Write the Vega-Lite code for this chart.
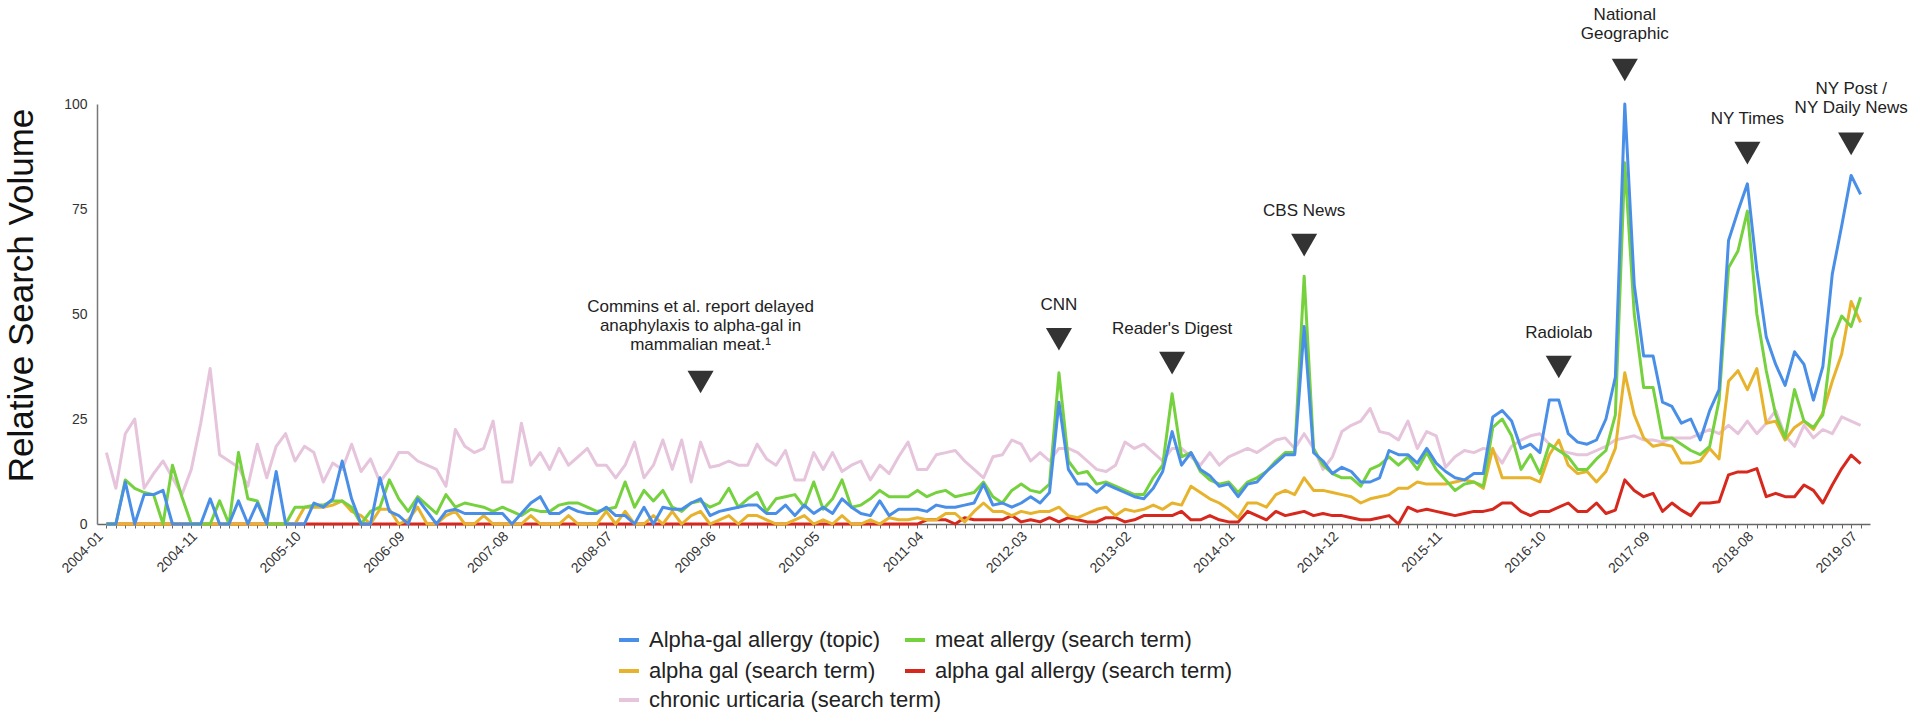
{
"$schema":"https://vega.github.io/schema/vega-lite/v6.json",
"width":1773,"height":420,
"autosize":{"type":"none"},
"padding":{"left":97,"top":104,"right":50,"bottom":197},
"config":{"view":{"stroke":null},"font":"Liberation Sans"},
"datasets":{
"trends":[
{"m":"2004-01","t":0,"g":0,"o":0,"r":0,"c":17},
{"m":"2004-02","t":0,"g":0,"o":0,"r":0,"c":8.5},
{"m":"2004-03","t":10,"g":10.5,"o":0,"r":0,"c":21.5},
{"m":"2004-04","t":0,"g":8.5,"o":0,"r":0,"c":25},
{"m":"2004-05","t":7,"g":7.5,"o":0,"r":0,"c":8.5},
{"m":"2004-06","t":7,"g":7,"o":0,"r":0,"c":12},
{"m":"2004-07","t":8,"g":0,"o":0,"r":0,"c":15},
{"m":"2004-08","t":0,"g":14,"o":0,"r":0,"c":11},
{"m":"2004-09","t":0,"g":6.5,"o":0,"r":0,"c":7},
{"m":"2004-10","t":0,"g":0,"o":0,"r":0,"c":13},
{"m":"2004-11","t":0,"g":0,"o":0,"r":0,"c":24},
{"m":"2004-12","t":6,"g":0,"o":0,"r":0,"c":37},
{"m":"2005-01","t":0,"g":5.5,"o":0,"r":0,"c":16.5},
{"m":"2005-02","t":0,"g":0,"o":0,"r":0,"c":15},
{"m":"2005-03","t":5.5,"g":17,"o":0,"r":0,"c":13.5},
{"m":"2005-04","t":0,"g":6,"o":0,"r":0,"c":9},
{"m":"2005-05","t":5,"g":5.5,"o":0,"r":0,"c":19},
{"m":"2005-06","t":0,"g":0,"o":0,"r":0,"c":11},
{"m":"2005-07","t":12.5,"g":0,"o":0,"r":0,"c":18.5},
{"m":"2005-08","t":0,"g":0,"o":0,"r":0,"c":21.5},
{"m":"2005-09","t":0,"g":4,"o":0,"r":0,"c":15},
{"m":"2005-10","t":0,"g":4,"o":4,"r":0,"c":18.5},
{"m":"2005-11","t":5,"g":4.5,"o":4,"r":0,"c":17},
{"m":"2005-12","t":4,"g":4.5,"o":4,"r":0,"c":10},
{"m":"2006-01","t":6,"g":5.5,"o":4.5,"r":0,"c":14.5},
{"m":"2006-02","t":15,"g":5.5,"o":5.5,"r":0,"c":13},
{"m":"2006-03","t":6,"g":4,"o":3,"r":0,"c":19},
{"m":"2006-04","t":0,"g":0,"o":2,"r":0,"c":12.5},
{"m":"2006-05","t":0,"g":3,"o":0,"r":0,"c":15.5},
{"m":"2006-06","t":11,"g":4,"o":3.5,"r":0,"c":10},
{"m":"2006-07","t":3,"g":10.5,"o":3.5,"r":0,"c":13},
{"m":"2006-08","t":2,"g":6,"o":0,"r":0,"c":17},
{"m":"2006-09","t":0,"g":3,"o":1,"r":0,"c":17},
{"m":"2006-10","t":6,"g":6.5,"o":4,"r":0,"c":15},
{"m":"2006-11","t":3,"g":4.5,"o":0,"r":0,"c":14},
{"m":"2006-12","t":0,"g":2.5,"o":0,"r":0,"c":13},
{"m":"2007-01","t":3,"g":7,"o":2,"r":0,"c":9},
{"m":"2007-02","t":3.5,"g":4,"o":3,"r":0,"c":22.5},
{"m":"2007-03","t":2.5,"g":5,"o":0,"r":0,"c":18.5},
{"m":"2007-04","t":2.5,"g":4.5,"o":0,"r":0,"c":17},
{"m":"2007-05","t":2.5,"g":4,"o":2,"r":0,"c":18},
{"m":"2007-06","t":2.5,"g":3,"o":0,"r":0,"c":24.5},
{"m":"2007-07","t":2.5,"g":4,"o":0,"r":0,"c":10},
{"m":"2007-08","t":0,"g":3,"o":0,"r":0,"c":10},
{"m":"2007-09","t":2.5,"g":2,"o":0,"r":0,"c":24},
{"m":"2007-10","t":5,"g":3.5,"o":2,"r":0,"c":14},
{"m":"2007-11","t":6.5,"g":3,"o":0,"r":0,"c":17},
{"m":"2007-12","t":2.5,"g":3,"o":0,"r":0,"c":13},
{"m":"2008-01","t":2.5,"g":4.5,"o":0,"r":0,"c":18},
{"m":"2008-02","t":4,"g":5,"o":2,"r":0,"c":14},
{"m":"2008-03","t":3,"g":5,"o":0,"r":0,"c":16},
{"m":"2008-04","t":2.5,"g":4,"o":0,"r":0,"c":18},
{"m":"2008-05","t":2.5,"g":3,"o":0,"r":0,"c":14},
{"m":"2008-06","t":4,"g":3.5,"o":3,"r":0,"c":14},
{"m":"2008-07","t":2,"g":4,"o":0,"r":0,"c":11},
{"m":"2008-08","t":2,"g":10,"o":3,"r":0,"c":14},
{"m":"2008-09","t":0,"g":4,"o":0,"r":0,"c":19.5},
{"m":"2008-10","t":4,"g":8,"o":0,"r":0,"c":11},
{"m":"2008-11","t":0,"g":5.5,"o":2,"r":0,"c":14},
{"m":"2008-12","t":4,"g":8,"o":0,"r":0,"c":20},
{"m":"2009-01","t":3.5,"g":4,"o":3,"r":0,"c":13},
{"m":"2009-02","t":3.5,"g":3,"o":0,"r":0,"c":20},
{"m":"2009-03","t":5,"g":5,"o":2,"r":0,"c":10},
{"m":"2009-04","t":6,"g":5.5,"o":3,"r":0,"c":19.5},
{"m":"2009-05","t":2,"g":4,"o":0,"r":0,"c":13.5},
{"m":"2009-06","t":3,"g":5,"o":1,"r":0,"c":14},
{"m":"2009-07","t":3.5,"g":8.5,"o":2,"r":0,"c":15},
{"m":"2009-08","t":4,"g":4,"o":0,"r":0,"c":14},
{"m":"2009-09","t":4.5,"g":6,"o":2,"r":0,"c":14},
{"m":"2009-10","t":4.5,"g":7.5,"o":2,"r":0,"c":19},
{"m":"2009-11","t":2.5,"g":3,"o":1,"r":0,"c":15.5},
{"m":"2009-12","t":2.5,"g":6,"o":0,"r":0,"c":14},
{"m":"2010-01","t":4.5,"g":6.5,"o":0,"r":0,"c":17.5},
{"m":"2010-02","t":2,"g":7,"o":1,"r":0,"c":10.5},
{"m":"2010-03","t":4.5,"g":4,"o":2,"r":0,"c":10.5},
{"m":"2010-04","t":2.5,"g":10,"o":0,"r":0,"c":17},
{"m":"2010-05","t":4,"g":3.5,"o":1,"r":0,"c":13},
{"m":"2010-06","t":2.5,"g":6,"o":0,"r":0,"c":17},
{"m":"2010-07","t":6,"g":10.5,"o":2,"r":0,"c":12.5},
{"m":"2010-08","t":4,"g":4,"o":0,"r":0,"c":14},
{"m":"2010-09","t":2.5,"g":4.5,"o":0,"r":0,"c":15},
{"m":"2010-10","t":2,"g":6,"o":1,"r":0,"c":10.5},
{"m":"2010-11","t":5.5,"g":8,"o":0,"r":0,"c":14},
{"m":"2010-12","t":2,"g":6.5,"o":1.5,"r":0,"c":12},
{"m":"2011-01","t":3.5,"g":6.5,"o":1,"r":0,"c":16},
{"m":"2011-02","t":3.5,"g":6.5,"o":1,"r":0,"c":19.5},
{"m":"2011-03","t":3.5,"g":8,"o":1.5,"r":0,"c":13},
{"m":"2011-04","t":3,"g":6.5,"o":1,"r":1,"c":13},
{"m":"2011-05","t":4.5,"g":7.5,"o":1,"r":1,"c":16.5},
{"m":"2011-06","t":4,"g":8,"o":2.5,"r":1,"c":17},
{"m":"2011-07","t":4,"g":6.5,"o":2.5,"r":0,"c":17.5},
{"m":"2011-08","t":4.5,"g":7,"o":0.5,"r":1.5,"c":15},
{"m":"2011-09","t":5,"g":7.5,"o":3,"r":1,"c":13},
{"m":"2011-10","t":9.5,"g":10,"o":5,"r":1,"c":11},
{"m":"2011-11","t":4.5,"g":6.5,"o":3,"r":1,"c":16},
{"m":"2011-12","t":5,"g":5,"o":3,"r":1,"c":16.5},
{"m":"2012-01","t":4,"g":8,"o":2,"r":2,"c":20},
{"m":"2012-02","t":5,"g":9.5,"o":3,"r":0.5,"c":19},
{"m":"2012-03","t":6.5,"g":8,"o":2.5,"r":1,"c":15},
{"m":"2012-04","t":5,"g":7.5,"o":3,"r":0.5,"c":17},
{"m":"2012-05","t":7.5,"g":9.5,"o":3,"r":1.5,"c":15},
{"m":"2012-06","t":29,"g":36,"o":4,"r":0.5,"c":18},
{"m":"2012-07","t":13,"g":15,"o":2,"r":1.5,"c":18},
{"m":"2012-08","t":9.5,"g":12,"o":1.5,"r":1,"c":17},
{"m":"2012-09","t":9.5,"g":12.5,"o":2.5,"r":0.5,"c":15},
{"m":"2012-10","t":7.5,"g":9.5,"o":3.5,"r":0.5,"c":13},
{"m":"2012-11","t":9.5,"g":10,"o":4,"r":1.5,"c":12.5},
{"m":"2012-12","t":8.5,"g":9,"o":2,"r":1.5,"c":14},
{"m":"2013-01","t":7.5,"g":8,"o":3.5,"r":0.5,"c":19.5},
{"m":"2013-02","t":6.5,"g":7,"o":3,"r":1,"c":18},
{"m":"2013-03","t":6,"g":7,"o":3.5,"r":2,"c":19},
{"m":"2013-04","t":8.5,"g":11,"o":4.5,"r":2,"c":17},
{"m":"2013-05","t":12.5,"g":14,"o":3.5,"r":2,"c":15},
{"m":"2013-06","t":22,"g":31,"o":5,"r":2,"c":18},
{"m":"2013-07","t":14,"g":16,"o":4.5,"r":3,"c":18},
{"m":"2013-08","t":17,"g":17,"o":9,"r":1,"c":16},
{"m":"2013-09","t":13,"g":12.5,"o":7.5,"r":1,"c":14},
{"m":"2013-10","t":11.5,"g":10.5,"o":6,"r":2,"c":17},
{"m":"2013-11","t":9,"g":9.5,"o":5,"r":1,"c":14},
{"m":"2013-12","t":9.5,"g":10,"o":3.5,"r":0.5,"c":16},
{"m":"2014-01","t":6.5,"g":7.5,"o":1.5,"r":0.5,"c":17},
{"m":"2014-02","t":9.5,"g":10,"o":5,"r":3,"c":18},
{"m":"2014-03","t":10,"g":11,"o":5,"r":2,"c":17},
{"m":"2014-04","t":12.5,"g":12.5,"o":4,"r":1,"c":18.5},
{"m":"2014-05","t":14.5,"g":15,"o":7,"r":3,"c":20},
{"m":"2014-06","t":16.5,"g":17,"o":8,"r":2,"c":20.5},
{"m":"2014-07","t":16.5,"g":17,"o":7,"r":2.5,"c":18},
{"m":"2014-08","t":47,"g":59,"o":11,"r":3,"c":21.5},
{"m":"2014-09","t":17,"g":18,"o":8,"r":2,"c":18},
{"m":"2014-10","t":15,"g":14,"o":8,"r":2.5,"c":13},
{"m":"2014-11","t":12,"g":12,"o":7.5,"r":2,"c":16},
{"m":"2014-12","t":13.5,"g":11,"o":7,"r":2,"c":22},
{"m":"2015-01","t":12.5,"g":11,"o":6.5,"r":1.5,"c":23.5},
{"m":"2015-02","t":10,"g":9,"o":5,"r":1,"c":24.5},
{"m":"2015-03","t":10,"g":13,"o":6,"r":1,"c":27.5},
{"m":"2015-04","t":11,"g":14,"o":6.5,"r":1.5,"c":22},
{"m":"2015-05","t":17.5,"g":16,"o":7,"r":2,"c":21.5},
{"m":"2015-06","t":16.5,"g":14,"o":8.5,"r":0,"c":20},
{"m":"2015-07","t":16.5,"g":16,"o":8.5,"r":4,"c":24.5},
{"m":"2015-08","t":14.5,"g":13,"o":10,"r":3,"c":18},
{"m":"2015-09","t":18,"g":17,"o":9.5,"r":3.5,"c":22},
{"m":"2015-10","t":14.5,"g":13,"o":9.5,"r":3,"c":21},
{"m":"2015-11","t":12.5,"g":10.5,"o":9.5,"r":2.5,"c":13.5},
{"m":"2015-12","t":11,"g":8,"o":10,"r":2,"c":16},
{"m":"2016-01","t":10.5,"g":9.5,"o":10.5,"r":2.5,"c":17.5},
{"m":"2016-02","t":12,"g":10,"o":10,"r":3,"c":17},
{"m":"2016-03","t":12,"g":9,"o":8.5,"r":3,"c":18},
{"m":"2016-04","t":25.5,"g":23,"o":18,"r":3.5,"c":17.5},
{"m":"2016-05","t":27,"g":25,"o":11,"r":5,"c":14.5},
{"m":"2016-06","t":24.5,"g":21,"o":11,"r":5,"c":18.5},
{"m":"2016-07","t":18,"g":13,"o":11,"r":3,"c":20},
{"m":"2016-08","t":19,"g":16.5,"o":11,"r":2,"c":21},
{"m":"2016-09","t":17,"g":12,"o":10,"r":3,"c":21.5},
{"m":"2016-10","t":29.5,"g":19,"o":16.5,"r":3,"c":19},
{"m":"2016-11","t":29.5,"g":17.5,"o":20,"r":4,"c":17.5},
{"m":"2016-12","t":21.5,"g":16,"o":14,"r":5,"c":17},
{"m":"2017-01","t":19.5,"g":13,"o":12,"r":3,"c":16.5},
{"m":"2017-02","t":19,"g":13,"o":12.5,"r":3,"c":16.5},
{"m":"2017-03","t":20,"g":15.5,"o":10,"r":5,"c":17.5},
{"m":"2017-04","t":25,"g":17.5,"o":12.5,"r":2.5,"c":18.5},
{"m":"2017-05","t":35,"g":26,"o":18,"r":3.3,"c":20},
{"m":"2017-06","t":100,"g":86,"o":36,"r":10.5,"c":20.5},
{"m":"2017-07","t":57,"g":50,"o":26,"r":8,"c":21},
{"m":"2017-08","t":40,"g":32.5,"o":20.5,"r":6.5,"c":20},
{"m":"2017-09","t":40,"g":32.5,"o":18.5,"r":7.3,"c":20},
{"m":"2017-10","t":29,"g":20.5,"o":19,"r":3,"c":19.5},
{"m":"2017-11","t":28,"g":20.5,"o":18.5,"r":5,"c":20.5},
{"m":"2017-12","t":24,"g":19,"o":14.5,"r":3.3,"c":20.5},
{"m":"2018-01","t":25,"g":17.5,"o":14.5,"r":2,"c":20.5},
{"m":"2018-02","t":20,"g":16.5,"o":15,"r":5,"c":21.5},
{"m":"2018-03","t":27,"g":18.5,"o":18,"r":5,"c":22.5},
{"m":"2018-04","t":32,"g":29.5,"o":15.5,"r":5.3,"c":21.5},
{"m":"2018-05","t":67.5,"g":61,"o":34,"r":11.7,"c":23.5},
{"m":"2018-06","t":74.5,"g":65,"o":36.5,"r":12.4,"c":21.5},
{"m":"2018-07","t":81,"g":74.5,"o":32,"r":12.4,"c":24.5},
{"m":"2018-08","t":60.5,"g":50,"o":37,"r":13.2,"c":21.5},
{"m":"2018-09","t":44.5,"g":36.5,"o":24,"r":6.5,"c":24},
{"m":"2018-10","t":38,"g":26,"o":24.5,"r":7.3,"c":27},
{"m":"2018-11","t":33,"g":20.5,"o":20,"r":6.5,"c":21},
{"m":"2018-12","t":41,"g":32,"o":23,"r":6.5,"c":18.5},
{"m":"2019-01","t":38,"g":24.5,"o":24.5,"r":9.3,"c":23.5},
{"m":"2019-02","t":29.5,"g":23,"o":22.5,"r":8,"c":20.5},
{"m":"2019-03","t":37.5,"g":26,"o":26.5,"r":5,"c":22.5},
{"m":"2019-04","t":59.5,"g":44,"o":34,"r":9.3,"c":21.5},
{"m":"2019-05","t":71,"g":49.5,"o":40.5,"r":13.2,"c":25.5},
{"m":"2019-06","t":83,"g":47,"o":53,"r":16.4,"c":24.5},
{"m":"2019-07","t":78.5,"g":54,"o":48,"r":14.4,"c":23.5}
],
"events":[
{"m":"2009-04","v":33.8,"lines":["Commins et al. report delayed","anaphylaxis to alpha-gal in","mammalian meat.¹"]},
{"m":"2012-06","v":44,"lines":["CNN"]},
{"m":"2013-06","v":38.3,"lines":["Reader's Digest"]},
{"m":"2014-08","v":66.4,"lines":["CBS News"]},
{"m":"2016-11","v":37.4,"lines":["Radiolab"]},
{"m":"2017-06","v":108.1,"lines":["National","Geographic"]},
{"m":"2018-07","v":88.3,"lines":["NY Times"]},
{"m":"2019-06","v":90.5,"lines":["NY Post /","NY Daily News"]}
]
},
"encoding":{
"x":{"field":"m","type":"ordinal","scale":{"type":"point","padding":1},
 "axis":{"title":null,"labelAngle":-45,"labelAlign":"right","labelBaseline":"middle","labelFontSize":14,"labelColor":"#333","labelPadding":6,"labelOffset":-6,"labelOverlap":false,"labelBound":false,
 "labelExpr":"indexof(['2004-01','2004-11','2005-10','2006-09','2007-08','2008-07','2009-06','2010-05','2011-04','2012-03','2013-02','2014-01','2014-12','2015-11','2016-10','2017-09','2018-08','2019-07'], datum.value) >= 0 ? datum.value : ''",
 "ticks":true,"tickSize":4,"tickColor":"#666","domainColor":"#666","domainWidth":1.5,"grid":false}},
"y":{"field":"v","type":"quantitative","scale":{"domain":[0,100],"nice":false},
 "axis":{"title":"Relative Search Volume","values":[0,25,50,75,100],"grid":false,"ticks":false,"labelPadding":10,"labelFontSize":14,"labelColor":"#333","domainColor":"#777","domainWidth":1.5,
 "titleFontSize":35,"titleFontWeight":"normal","titleColor":"#111","titleX":-65,"titleY":191,"titleAlign":"center","titleBaseline":"alphabetic","titleAngle":270}}
},
"layer":[
{"data":{"name":"trends"},"transform":[{"fold":["c"],"as":["key","v"]}],
 "mark":{"type":"line","strokeWidth":3,"strokeJoin":"round"},
 "encoding":{"color":{"field":"key","type":"nominal","scale":{"domain":["c"],"range":["#E5C4DC"]},
  "legend":{"orient":"none","legendX":520,"legendY":584,"title":null,"labelExpr":"'chronic urticaria (search term)'","symbolType":"stroke","symbolSize":400,"symbolStrokeWidth":4,"labelFontSize":22,"labelColor":"#222","labelOffset":8,"labelLimit":500,"padding":0}}}},
{"layer":[
 {"data":{"name":"trends"},"transform":[{"fold":["r"],"as":["key","v"]}],"mark":{"type":"line","strokeWidth":3,"strokeJoin":"round"}},
 {"data":{"name":"trends"},"transform":[{"fold":["o"],"as":["key","v"]}],"mark":{"type":"line","strokeWidth":3,"strokeJoin":"round"}},
 {"data":{"name":"trends"},"transform":[{"fold":["g"],"as":["key","v"]}],"mark":{"type":"line","strokeWidth":3,"strokeJoin":"round"}},
 {"data":{"name":"trends"},"transform":[{"fold":["t"],"as":["key","v"]}],"mark":{"type":"line","strokeWidth":3,"strokeJoin":"round"}}
 ],
 "encoding":{"color":{"field":"key","type":"nominal","scale":{"domain":["t","o","g","r"],"range":["#4A8FE7","#E8B32C","#76D13E","#D7281E"]},
  "legend":{"orient":"none","legendX":520,"legendY":524,"columns":2,"columnPadding":16,"rowPadding":8,"title":null,
  "labelExpr":"datum.value=='t'?'Alpha-gal allergy (topic)':datum.value=='g'?'meat allergy (search term)':datum.value=='o'?'alpha gal (search term)':'alpha gal allergy (search term)'",
  "symbolType":"stroke","symbolSize":400,"symbolStrokeWidth":4,"labelFontSize":22,"labelColor":"#222","labelOffset":8,"labelLimit":500,"padding":0}}}},
{"data":{"name":"events"},"mark":{"type":"point","shape":"triangle-down","filled":true,"size":680,"color":"#333","opacity":1}},
{"data":{"name":"events"},"transform":[{"filter":"length(datum.lines) == 1"}],"mark":{"type":"text","fontSize":17,"lineHeight":19,"align":"center","baseline":"bottom","dy":-25,"color":"#222"},
 "encoding":{"text":{"field":"lines","type":"nominal"}}},
{"data":{"name":"events"},"transform":[{"filter":"length(datum.lines) == 2"}],"mark":{"type":"text","fontSize":17,"lineHeight":19,"align":"center","baseline":"bottom","dy":-46,"color":"#222"},
 "encoding":{"text":{"field":"lines","type":"nominal"}}},
{"data":{"name":"events"},"transform":[{"filter":"length(datum.lines) == 3"}],"mark":{"type":"text","fontSize":17,"lineHeight":19,"align":"center","baseline":"bottom","dy":-66,"color":"#222"},
 "encoding":{"text":{"field":"lines","type":"nominal"}}}
],
"resolve":{"scale":{"color":"independent"}}
}
